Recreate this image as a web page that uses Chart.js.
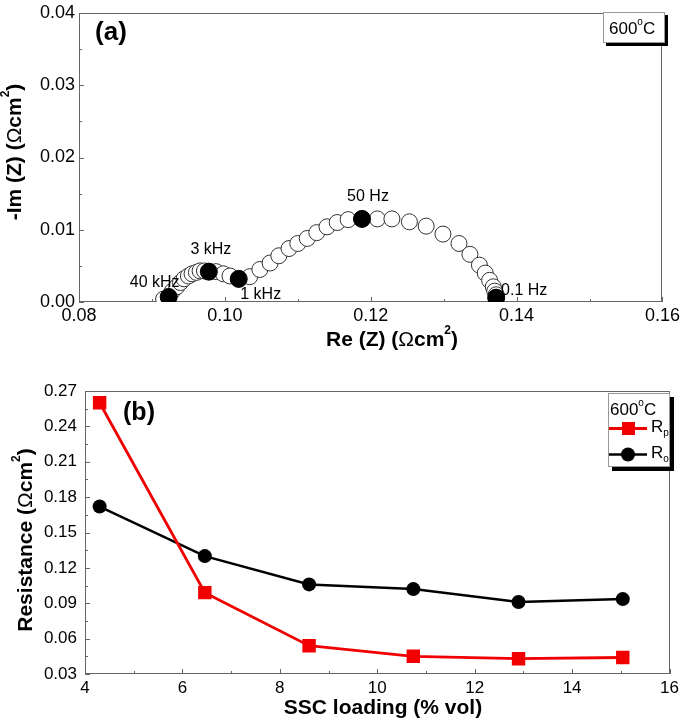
<!DOCTYPE html>
<html><head><meta charset="utf-8">
<script src="https://cdn.jsdelivr.net/npm/chart.js@4.4.1/dist/chart.umd.min.js"></script>
<style>
html,body{margin:0;padding:0;background:#fff;}
#wrap{position:relative;width:685px;height:722px;overflow:hidden;}
canvas{position:absolute;left:0;}
#ca{top:0;}
#cb{top:360px;}
</style></head><body>
<div id="wrap"><canvas id="ca" width="685" height="360"></canvas><canvas id="cb" width="685" height="362"></canvas></div>
<script>
// ---------- data: panel (a) Nyquist plot ----------
const reZ = [0.0916, 0.0923, 0.0928, 0.0934, 0.0939, 0.0944, 0.0950, 0.0955, 0.0961, 0.0966,
             0.0972, 0.0978, 0.0988, 0.0998, 0.1007, 0.1019, 0.1034, 0.1048, 0.1062, 0.1074,
             0.1088, 0.1100, 0.1113, 0.1126, 0.1140, 0.1154, 0.1169, 0.1188, 0.1209, 0.1229,
             0.1253, 0.1276, 0.1299, 0.1321, 0.1336, 0.1349, 0.1357, 0.1363, 0.1368, 0.1370,
             0.1372, 0.1372];
const imZ = [0.0004, 0.0007, 0.0015, 0.0021, 0.0027, 0.0032, 0.0036, 0.0039, 0.0041, 0.0043,
             0.0043, 0.0042, 0.0042, 0.0039, 0.0036, 0.0032, 0.0035, 0.0045, 0.0054, 0.0064,
             0.0074, 0.0081, 0.0088, 0.0096, 0.0104, 0.0110, 0.0114, 0.0115, 0.0115, 0.0115,
             0.0111, 0.0105, 0.0094, 0.0081, 0.0066, 0.0051, 0.0040, 0.0030, 0.0021, 0.0015,
             0.0010, 0.0006];
const freqIdx = [1, 11, 15, 27, 41];
const freqLabels = ['40 kHz', '3 kHz', '1 kHz', '50 Hz', '0.1 Hz'];
const xTicksA = [0.08, 0.10, 0.12, 0.14, 0.16];
const yTicksA = [0.00, 0.01, 0.02, 0.03, 0.04];

// ---------- data: panel (b) resistance vs loading ----------
const sscLoading = [4.3, 6.46, 8.6, 10.74, 12.9, 15.04];
const rp = [0.260, 0.099, 0.054, 0.045, 0.043, 0.044];
const ro = [0.172, 0.130, 0.106, 0.102, 0.091, 0.0935];
const xTicksB = [4, 6, 8, 10, 12, 14, 16];
const yTicksB = [0.03, 0.06, 0.09, 0.12, 0.15, 0.18, 0.21, 0.24, 0.27];

const FAM = '"Liberation Sans", Arial, Helvetica, sans-serif';
const f = (w, s) => `${w} ${s}px ${FAM}`;

function richText(ctx, parts, x, y, rot, align) {
  ctx.save();
  ctx.translate(x, y);
  ctx.rotate(rot || 0);
  let w = 0;
  parts.forEach(p => { ctx.font = p.f; p.w = ctx.measureText(p.t).width; w += p.w; });
  let cx = align === 'left' ? 0 : -w / 2;
  ctx.textBaseline = 'middle';
  ctx.textAlign = 'left';
  ctx.fillStyle = '#000';
  parts.forEach(p => { ctx.font = p.f; ctx.fillText(p.t, cx, p.dy || 0); cx += p.w; });
  ctx.restore();
}
function unitTitle(label) {
  return [
    {t: label + ' (', f: f('bold', 21)},
    {t: '\u03A9', f: f('normal', 21)},
    {t: 'cm', f: f('bold', 21)},
    {t: '2', f: f('bold', 12), dy: -9},
    {t: ')', f: f('bold', 21)}
  ];
}
function mids(arr) { const m = []; for (let i = 0; i < arr.length - 1; i++) m.push((arr[i] + arr[i + 1]) / 2); return m; }

const axisDecor = {
  id: 'axisDecor',
  beforeDatasetsDraw(chart, args, o) {
    const {ctx, chartArea: a, scales: {x, y}} = chart;
    ctx.save();
    ctx.strokeStyle = '#666';
    ctx.lineWidth = 1;
    ctx.strokeRect(Math.round(a.left) + 0.5, Math.round(a.top) + 0.5,
                   Math.round(a.right - a.left) - 1, Math.round(a.bottom - a.top) - 1);
    ctx.beginPath();
    const xt = (vals, len) => vals.forEach(v => {
      const px = Math.round(x.getPixelForValue(v)) + 0.5;
      ctx.moveTo(px, a.bottom); ctx.lineTo(px, a.bottom - len);
    });
    const yt = (vals, len) => vals.forEach(v => {
      const py = Math.round(y.getPixelForValue(v)) + 0.5;
      ctx.moveTo(a.left, py); ctx.lineTo(a.left + len, py);
    });
    xt(o.xMajor, 5); xt(mids(o.xMajor), 3);
    yt(o.yMajor, 5); yt(mids(o.yMajor), 3);
    ctx.stroke();
    ctx.restore();
  },
  afterDraw(chart, args, o) {
    o.extra && o.extra(chart);
  }
};

function tickSet(arr) {
  return function (scale) { scale.ticks = arr.map(v => ({value: v})); };
}

// ---------- chart (a) ----------
new Chart(document.getElementById('ca'), {
  type: 'scatter',
  data: {
    datasets: [
      {
        data: freqIdx.map(i => ({x: reZ[i], y: imZ[i]})),
        pointRadius: 8.5, pointBackgroundColor: '#000', pointBorderColor: '#000', pointBorderWidth: 1,
        showLine: false, clip: 0, order: 0
      },
      {
        data: reZ.map((v, i) => ({x: v, y: imZ[i]})),
        pointRadius: 8, pointBackgroundColor: '#fff', pointBorderColor: '#333', pointBorderWidth: 1,
        showLine: false, clip: 0, order: 1
      }
    ]
  },
  options: {
    responsive: false, animation: false, events: [],
    layout: {padding: {left: 0, top: 9, right: 19, bottom: 0}},
    plugins: {
      legend: {display: false}, tooltip: {enabled: false},
      axisDecor: {
        xMajor: xTicksA, yMajor: yTicksA,
        extra(chart) {
          const {ctx, scales: {x, y}} = chart;
          const offs = [[-14, -14], [2, -22], [22, 16], [6, -22], [28, -7]];
          ctx.save();
          ctx.font = f('normal', 16);
          ctx.fillStyle = '#000';
          ctx.textAlign = 'center';
          ctx.textBaseline = 'middle';
          freqIdx.forEach((idx, k) => {
            ctx.fillText(freqLabels[k], x.getPixelForValue(reZ[idx]) + offs[k][0],
                         y.getPixelForValue(imZ[idx]) + offs[k][1]);
          });
          ctx.restore();
          // axis titles
          richText(ctx, unitTitle('-Im (Z)'), 15, 152, -Math.PI / 2);
          richText(ctx, unitTitle('Re (Z)'), 392, 340, 0);
          // panel label
          ctx.save();
          ctx.font = f('bold', 26); ctx.fillStyle = '#000';
          ctx.textAlign = 'center'; ctx.textBaseline = 'middle';
          ctx.fillText('(a)', 111, 33);
          ctx.restore();
          // legend box
          ctx.save();
          ctx.fillStyle = '#000';
          ctx.fillRect(606, 15, 62, 31);
          ctx.fillStyle = '#fff';
          ctx.fillRect(603, 12, 62, 31);
          ctx.strokeStyle = '#999'; ctx.lineWidth = 1;
          ctx.strokeRect(603.5, 12.5, 61, 30);
          ctx.restore();
          richText(ctx, [{t: '600', f: f('normal', 17)}, {t: 'o', f: f('normal', 10), dy: -7},
                         {t: 'C', f: f('normal', 17)}], 609, 29, 0, 'left');
        }
      }
    },
    scales: {
      x: {
        type: 'linear', min: 0.08, max: 0.16,
        afterBuildTicks: tickSet(xTicksA),
        afterFit(s) { s.height = 58; },
        grid: {display: false, drawTicks: false}, border: {display: false},
        ticks: {color: '#000', padding: 5, font: {family: FAM, size: 18, lineHeight: 1},
                callback: v => v.toFixed(2), maxRotation: 0, autoSkip: false}
      },
      y: {
        type: 'linear', min: 0, max: 0.04,
        afterBuildTicks: tickSet(yTicksA),
        afterFit(s) { s.width = 79; },
        grid: {display: false, drawTicks: false}, border: {display: false},
        ticks: {color: '#000', padding: 4, font: {family: FAM, size: 18, lineHeight: 1},
                callback: v => v.toFixed(2), autoSkip: false}
      }
    }
  },
  plugins: [axisDecor]
});

// ---------- chart (b) ----------
new Chart(document.getElementById('cb'), {
  type: 'scatter',
  data: {
    datasets: [
      {
        label: 'Rp', data: sscLoading.map((v, i) => ({x: v, y: rp[i]})),
        showLine: true, borderColor: '#f00000', borderWidth: 2.8,
        pointStyle: 'rect', pointRadius: 9.5, pointBackgroundColor: '#f00000', pointBorderColor: '#f00000',
        pointBorderWidth: 0
      },
      {
        label: 'Ro', data: sscLoading.map((v, i) => ({x: v, y: ro[i]})),
        showLine: true, borderColor: '#000', borderWidth: 2.5,
        pointStyle: 'circle', pointRadius: 7, pointBackgroundColor: '#000', pointBorderColor: '#000',
        pointBorderWidth: 0
      }
    ]
  },
  options: {
    responsive: false, animation: false, events: [],
    layout: {padding: {left: 0, top: 31, right: 11, bottom: 0}},
    plugins: {
      legend: {display: false}, tooltip: {enabled: false},
      axisDecor: {
        xMajor: xTicksB, yMajor: yTicksB,
        extra(chart) {
          const {ctx} = chart;
          richText(ctx, unitTitle('Resistance'), 26, 180, -Math.PI / 2);
          richText(ctx, [{t: 'SSC loading (% vol)', f: f('bold', 21)}], 383, 348, 0);
          ctx.save();
          ctx.font = f('bold', 25); ctx.fillStyle = '#000';
          ctx.textAlign = 'center'; ctx.textBaseline = 'middle';
          ctx.fillText('(b)', 139, 53);
          ctx.restore();
          // legend box
          ctx.save();
          ctx.fillStyle = '#000';
          ctx.fillRect(612, 37, 62, 74);
          ctx.fillStyle = '#fff';
          ctx.fillRect(608, 33, 62, 74);
          ctx.strokeStyle = '#999'; ctx.lineWidth = 1;
          ctx.strokeRect(608.5, 33.5, 61, 73);
          // Rp marker
          ctx.strokeStyle = '#f00000'; ctx.lineWidth = 2.8;
          ctx.beginPath(); ctx.moveTo(609, 68.5); ctx.lineTo(647, 68.5); ctx.stroke();
          ctx.fillStyle = '#f00000'; ctx.fillRect(622, 62, 13, 13);
          // Ro marker
          ctx.strokeStyle = '#000'; ctx.lineWidth = 2.5;
          ctx.beginPath(); ctx.moveTo(609, 94.5); ctx.lineTo(647, 94.5); ctx.stroke();
          ctx.fillStyle = '#000'; ctx.beginPath(); ctx.arc(628, 94.5, 7, 0, Math.PI * 2); ctx.fill();
          ctx.restore();
          richText(ctx, [{t: '600', f: f('normal', 17)}, {t: 'o', f: f('normal', 10), dy: -7},
                         {t: 'C', f: f('normal', 17)}], 610, 50, 0, 'left');
          richText(ctx, [{t: 'R', f: f('normal', 17)}, {t: 'p', f: f('normal', 10), dy: 6}], 651, 67, 0, 'left');
          richText(ctx, [{t: 'R', f: f('normal', 17)}, {t: 'o', f: f('normal', 10), dy: 6}], 651, 93, 0, 'left');
        }
      }
    },
    scales: {
      x: {
        type: 'linear', min: 4, max: 16,
        afterBuildTicks: tickSet(xTicksB),
        afterFit(s) { s.height = 48; },
        grid: {display: false, drawTicks: false}, border: {display: false},
        ticks: {color: '#000', padding: 6, font: {family: FAM, size: 17, lineHeight: 1},
                callback: v => String(Math.round(v)), maxRotation: 0, autoSkip: false}
      },
      y: {
        type: 'linear', min: 0.03, max: 0.27,
        afterBuildTicks: tickSet(yTicksB),
        afterFit(s) { s.width = 85; },
        grid: {display: false, drawTicks: false}, border: {display: false},
        ticks: {color: '#000', padding: 8, font: {family: FAM, size: 17, lineHeight: 1},
                callback: v => v.toFixed(2), autoSkip: false}
      }
    }
  },
  plugins: [axisDecor]
});
</script>
</body></html>
